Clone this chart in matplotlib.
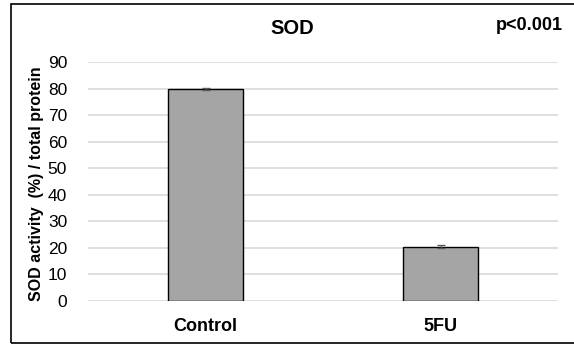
import matplotlib
matplotlib.use("Agg")
import matplotlib.pyplot as plt
from matplotlib.patches import Rectangle

plt.rcParams['font.family'] = ['Liberation Sans', 'DejaVu Sans']

categories = ["Control", "5FU"]
values = [79.8, 20.4]
errors = [0.5, 0.6]
yticks = [0, 10, 20, 30, 40, 50, 60, 70, 80, 90]

W, H = 574, 345
fig = plt.figure(figsize=(W / 100, H / 100), dpi=100)
fig.patch.set_facecolor("white")

ax = fig.add_axes([88 / W, 1 - 301 / H, (558 - 88) / W, (301 - 62) / H])

x = range(len(categories))
ax.bar(x, values, width=0.315, color="#a5a5a5", edgecolor="black",
       linewidth=1.0, zorder=3)
ax.errorbar(x, values, yerr=errors, fmt="none", ecolor="#595959",
            elinewidth=0.8, capsize=3, capthick=1.0, zorder=4)

ax.set_xlim(-0.5, 1.5)
ax.set_ylim(0, 90)
ax.set_yticks(yticks)
ax.set_yticklabels([str(t) for t in yticks], fontsize=12.5)
ax.set_xticks(list(x))
ax.set_xticklabels(categories, fontsize=13, fontweight="bold")
ax.tick_params(axis="y", length=0, pad=15)
ax.tick_params(axis="x", length=0, pad=12)
ax.yaxis.grid(True, color="#d9d9d9", linewidth=1.2, zorder=0)
ax.set_axisbelow(True)
for s in ax.spines.values():
    s.set_visible(False)

ax.set_ylabel("SOD activity  (%) / total protein", fontsize=11.5,
              fontweight="bold")
ax.yaxis.set_label_coords(-(88 - 44) / (558 - 88), 0.49)

fig.text(292 / W, 1 - 29 / H, "SOD", ha="center", va="center",
         fontsize=14.5, fontweight="bold")
fig.text(563 / W, 1 - 26 / H, "p<0.001", ha="right", va="center",
         fontsize=13, fontweight="bold")

fig.patches.append(Rectangle((11 / W, 1 - 343 / H), 1.0, (343 - 4) / H,
                             transform=fig.transFigure, fill=False,
                             edgecolor="black", linewidth=1.2, clip_on=False))

fig.savefig("out.png", dpi=100)
